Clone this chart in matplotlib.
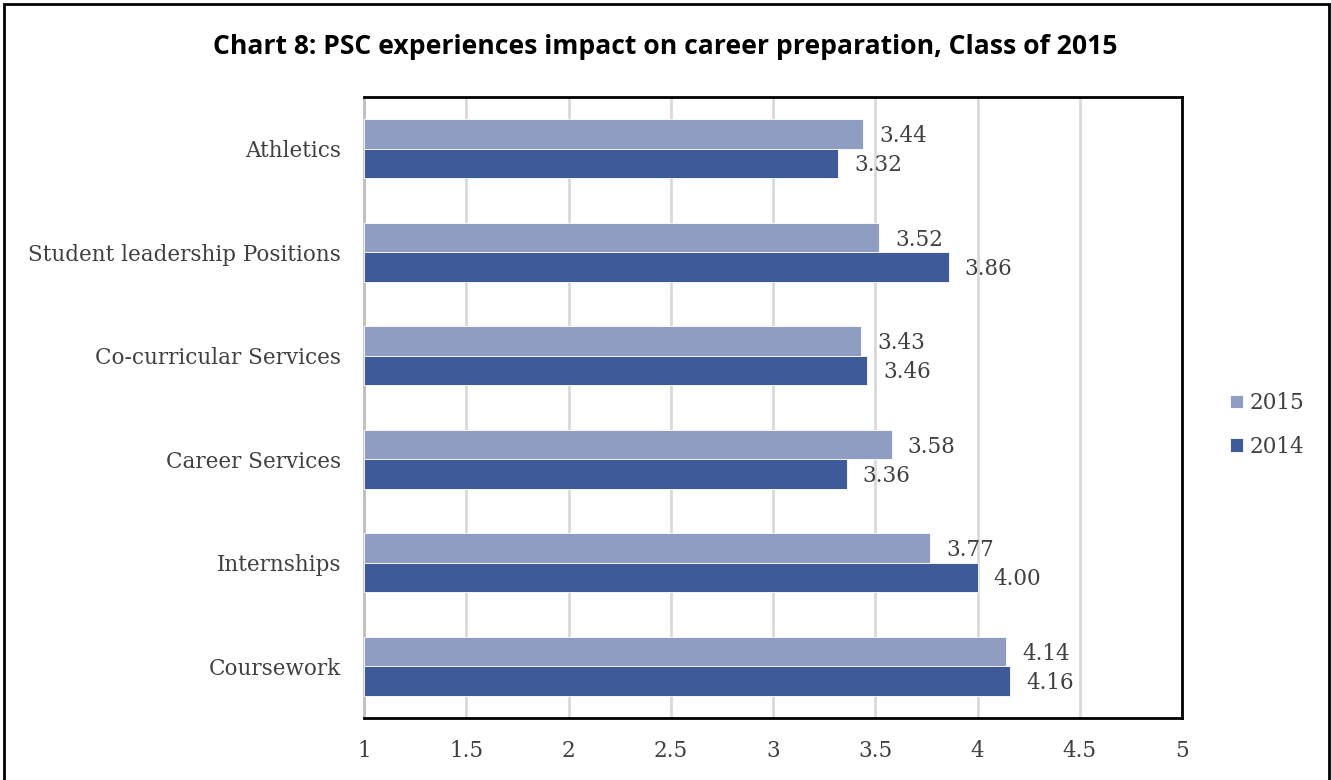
import numpy as np
import matplotlib
matplotlib.use("Agg")
import matplotlib.pyplot as plt
from matplotlib.patches import Rectangle

######################################
categories = ["Athletics", "Student leadership Positions", "Co-curricular Services",
              "Career Services", "Internships", "Coursework"]
vals_2015 = [3.44, 3.52, 3.43, 3.58, 3.77, 4.14]
vals_2014 = [3.32, 3.86, 3.46, 3.36, 4.00, 4.16]
xticks = [1, 1.5, 2, 2.5, 3, 3.5, 4, 4.5, 5]
xtick_labels = ["1", "1.5", "2", "2.5", "3", "3.5", "4", "4.5", "5"]
title = "Chart 8: PSC experiences impact on career preparation, Class of 2015"
######################################
c2015 = "#8F9DC2"
c2014 = "#3F5A99"
txtcol = "#404040"
serif = "DejaVu Serif"
fs = 15.5
barh_ = 0.285
######################################

fig = plt.figure(figsize=(13.31, 7.80), dpi=100)
ax = fig.add_axes([364/1331, 1-718/780, (1182-364)/1331, (718-97)/780])

y = np.arange(len(categories))
b15 = ax.barh(y - barh_/2, np.array(vals_2015) - 1, left=1, height=barh_,
              color=c2015, edgecolor="white", linewidth=0.6, label="2015", zorder=3)
b14 = ax.barh(y + barh_/2, np.array(vals_2014) - 1, left=1, height=barh_,
              color=c2014, edgecolor="white", linewidth=0.6, label="2014", zorder=3)

for bars, vals in [(b15, vals_2015), (b14, vals_2014)]:
    for bar, v in zip(bars, vals):
        ax.annotate("%.2f" % v, (v, bar.get_y() + bar.get_height()/2),
                    xytext=(16, -2), textcoords="offset pixels",
                    va="center", ha="left", fontsize=fs, family=serif, color=txtcol)

ax.set_xlim(1, 5)
ax.set_ylim(len(categories) - 0.5, -0.5)
ax.set_xticks(xticks)
ax.set_xticklabels(xtick_labels, fontsize=fs, family=serif, color=txtcol)
ax.set_yticks(y)
ax.set_yticklabels(categories, fontsize=fs, family=serif, color=txtcol)
ax.tick_params(length=0, pad=16.5, axis="y")
ax.tick_params(length=0, pad=16, axis="x")
ax.grid(axis="x", color="#d9d9d9", linewidth=2, zorder=0)
ax.set_axisbelow(True)
for s in ["top", "right", "bottom"]:
    ax.spines[s].set_color("black")
    ax.spines[s].set_linewidth(2)
ax.spines["left"].set_color("#bfbfbf")
ax.spines["left"].set_linewidth(2)

leg = fig.legend(handles=[b15, b14], labels=["2015", "2014"], loc="center left",
                 bbox_to_anchor=(1211/1331, 1-425/780), frameon=False,
                 prop={"family": serif, "size": fs}, handlelength=0.6, handleheight=0.6,
                 handletextpad=0.3, labelspacing=1.0)
for t in leg.get_texts():
    t.set_color(txtcol)

fig.text(0.5, 1-47/780, title, ha="center", va="center", fontsize=19.1,
         family="Open Sans", fontweight="bold", color="black")

fig.patches.append(Rectangle((4/1331, -0.05), (1329-4)/1331, 1-4/780+0.05,
                             transform=fig.transFigure, fill=False,
                             edgecolor="black", linewidth=2, clip_on=False))

fig.savefig("out.png", dpi=100)
